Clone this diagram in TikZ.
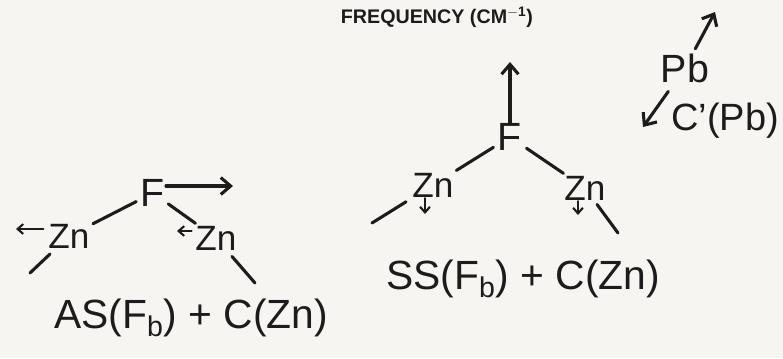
\documentclass[tikz,border=0pt]{standalone}
\usepackage{fontspec}
\setmainfont{Liberation Sans}
\usetikzlibrary{arrows.meta}
\definecolor{InkBlack}{RGB}{28,28,28}
\definecolor{PaperWhite}{RGB}{247,245,242}

\begin{document}
\begin{tikzpicture}[x=0.025cm, y=-0.025cm,
    atom/.style={font=\fontsize{25}{28}\selectfont, text=InkBlack, inner sep=0.5pt},
    bigatom/.style={font=\fontsize{28}{30}\selectfont, text=InkBlack, inner sep=0.5pt},
    modelabel/.style={font=\fontsize{29}{32}\selectfont, text=InkBlack, inner sep=1pt},
    bond/.style={line width=2.2pt, InkBlack, line cap=round},
    motion/.style={line width=2.2pt, InkBlack, line cap=round,
                  -{Straight Barb[length=7pt, width=12pt, line width=2.2pt]}},
    smallmotion/.style={line width=1.5pt, InkBlack, line cap=round,
                  -{Straight Barb[length=4pt, width=7pt, line width=1.5pt]}}]
  % paper and frame
  \fill[PaperWhite] (0,0) rectangle (783,358);
  \useasboundingbox (0,0) rectangle (783,358);

  % axis title
  \node[font=\bfseries\fontsize{14}{16}\selectfont, text=InkBlack] (title)
      at (437,17) {FREQUENCY (CM\textsuperscript{\textbf{$-$1}})};

  % Left: antisymmetric mode
  \node[bigatom] (fl) at (153,193) {F};
  \node[atom] (zl1) at (69,236) {Zn};
  \node[atom] (zl2) at (216,238) {Zn};
  \coordinate (fla) at (233,186);
  \coordinate (al1) at (16,229);
  \coordinate (al2) at (177,231);
  \coordinate (ll1) at (30,273);
  \coordinate (ll2) at (255,283);
  \draw[motion] (fl.east |- fla) -- (fla);
  \draw[bond, shorten <=3pt, shorten >=2pt] (fl) -- (zl1);
  \draw[bond, shorten <=2pt, shorten >=2pt] (fl) -- (zl2);
  \draw[smallmotion, shorten <=3pt] (zl1.west |- al1) -- (al1);
  \draw[smallmotion, shorten <=2pt] (zl2.west |- al2) -- (al2);
  \draw[bond, shorten <=5pt] (zl1) -- (ll1);
  \draw[bond, shorten <=5pt] (zl2) -- (ll2);
  \node[modelabel] (asl) at (191,318) {AS(F\textsubscript{b}) + C(Zn)};

  % Middle: symmetric mode
  \node[bigatom] (fm) at (510,137) {F};
  \node[atom] (zm1) at (433,185) {Zn};
  \node[atom] (zm2) at (585,188) {Zn};
  \coordinate (fmu) at (510,62);
  \coordinate (dm1) at (425,214);
  \coordinate (dm2) at (578,215);
  \coordinate (lm1) at (372,223);
  \coordinate (lm2) at (618,233);
  \draw[motion] (fm.north) -- (fmu);
  \draw[bond, shorten <=3pt, shorten >=2pt] (fm) -- (zm1);
  \draw[bond, shorten <=3pt, shorten >=2pt] (fm) -- (zm2);
  \draw[smallmotion] (zm1.south -| dm1) -- (dm1);
  \draw[smallmotion] (zm2.south -| dm2) -- (dm2);
  \draw[bond, shorten <=5pt] (zm1) -- (lm1);
  \draw[bond, shorten <=3pt] (zm2) -- (lm2);
  \node[modelabel] (ssl) at (523,279) {SS(F\textsubscript{b}) + C(Zn)};

  % Right: lead
  \node[bigatom] (pb) at (685,68) {Pb};
  \coordinate (pbu) at (715,12);
  \coordinate (pbd) at (643,127);
  \draw[motion, shorten <=3pt] (pb) -- (pbu);
  \draw[motion, shorten <=7pt] (pb) -- (pbd);
  \node[modelabel, font=\fontsize{27}{30}\selectfont] (cpb) at (725,121) {C’(Pb)};
\end{tikzpicture}
\end{document}
